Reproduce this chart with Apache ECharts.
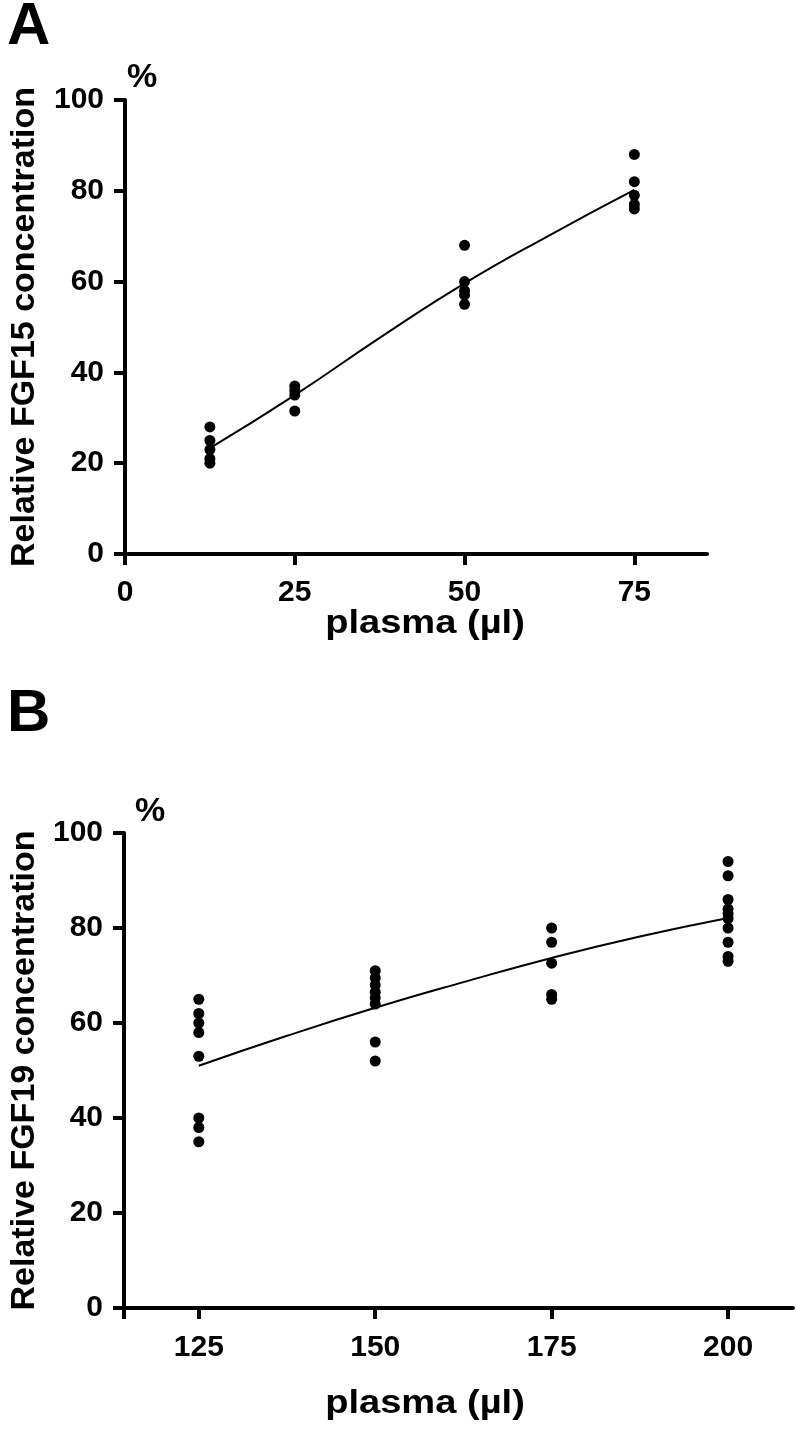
<!DOCTYPE html>
<html><head><meta charset="utf-8">
<script src="https://cdn.jsdelivr.net/npm/echarts@6/dist/echarts.min.js"></script>
<style>html,body{margin:0;padding:0;background:#fff}#c{width:797px;height:1430px}</style>
</head><body><div id="c"></div>
<script>
// Panel A data (FGF15)
const aDoses = [12.5, 25, 50, 75];
const aValues = [
  [28, 25, 23, 21, 20],
  [37, 36, 35, 31.5],
  [68, 60, 58, 57, 55],
  [88, 82, 79, 77, 76]
];
const aFitX = [12.5, 25, 37.5, 50, 62.5, 75];
const aFitY = [23.3, 35, 47.6, 59.6, 70.2, 80.2];
const aXTicks = [0, 25, 50, 75];

// Panel B data (FGF19)
const bDoses = [125, 150, 175, 200];
const bValues = [
  [65, 62, 60, 58, 53, 40, 38, 35],
  [71, 69.5, 68, 66.5, 65.3, 64, 56, 52],
  [80, 77, 72.6, 66, 65],
  [94, 91, 86, 84, 83, 82, 80, 77, 74, 73]
];
const bFitX = [125, 137.5, 150, 162.5, 175, 187.5, 200];
const bFitY = [51, 57.3, 63.2, 68.6, 73.7, 78.2, 82.1];
const bXTicks = [125, 150, 175, 200];
const yTicks = [0, 20, 40, 60, 80, 100];

function pts(doses, values) {
  const out = [];
  doses.forEach((d, i) => values[i].forEach(v => out.push([d, v])));
  return out;
}
function zip(xs, ys) { return xs.map((x, i) => [x, ys[i]]); }

const FONT = '"Liberation Sans", Arial, sans-serif';
const axisLine = { show: true, onZero: false, lineStyle: { color: '#000', width: 4 } };
const axisTick = (vals) => ({ show: true, inside: false, length: 11, lineStyle: { color: '#000', width: 4 }, customValues: vals });
const label = (vals, margin) => ({ color: '#000', fontFamily: FONT, fontWeight: 'bold', fontSize: 30, margin: margin, customValues: vals });
const yName = { color: '#000', fontFamily: FONT, fontWeight: 'bold', fontSize: 34 };

const chart = echarts.init(document.getElementById('c'), null, { renderer: 'canvas' });
chart.setOption({
  animation: false,
  backgroundColor: '#fff',
  grid: [
    { left: 119, top: 100, width: 588, height: 454 },
    { left: 118, top: 833, width: 675, height: 475 }
  ],
  xAxis: [
    { gridIndex: 0, type: 'value', min: 0, max: 85.7, axisLine, axisTick: axisTick(aXTicks),
      axisLabel: label(aXTicks, 24), splitLine: { show: false } },
    { gridIndex: 1, type: 'value', min: 114.4, max: 209.2, axisLine,
      axisTick: axisTick([114.4].concat(bXTicks)),
      axisLabel: label(bXTicks, 25), splitLine: { show: false } }
  ],
  yAxis: [
    { gridIndex: 0, type: 'value', min: 0, max: 100, axisLine, axisTick: axisTick(yTicks),
      axisLabel: label(yTicks, 21), splitLine: { show: false },
      name: 'Relative FGF15 concentration', nameLocation: 'middle', nameRotate: 90, nameGap: 83,
      nameTextStyle: yName },
    { gridIndex: 1, type: 'value', min: 0, max: 100, axisLine, axisTick: axisTick(yTicks),
      axisLabel: label(yTicks, 21), splitLine: { show: false },
      name: 'Relative FGF19 concentration', nameLocation: 'middle', nameRotate: 90, nameGap: 82,
      nameTextStyle: yName }
  ],
  graphic: [
    { type: 'text', left: 7, top: -3, style: { text: 'A', font: 'bold 60px ' + FONT, fill: '#000' } },
    { type: 'text', left: 127, top: 61, style: { text: '%', font: 'bold 34px ' + FONT, fill: '#000' } },
    { type: 'text', left: 7, top: 684, style: { text: 'B', font: 'bold 60px ' + FONT, fill: '#000' } },
    { type: 'text', left: 135, top: 795, style: { text: '%', font: 'bold 34px ' + FONT, fill: '#000' } },
    { type: 'text', x: 425, y: 624, scaleX: 1.12, style: { text: 'plasma (µl)', font: 'bold 34px ' + FONT, fill: '#000', align: 'center', verticalAlign: 'middle' } },
    { type: 'text', x: 425, y: 1404, scaleX: 1.12, style: { text: 'plasma (µl)', font: 'bold 34px ' + FONT, fill: '#000', align: 'center', verticalAlign: 'middle' } }
  ],
  series: [
    { type: 'line', xAxisIndex: 0, yAxisIndex: 0, data: zip(aFitX, aFitY), smooth: true, symbol: 'none',
      lineStyle: { color: '#000', width: 2 }, z: 2 },
    { type: 'scatter', xAxisIndex: 0, yAxisIndex: 0, data: pts(aDoses, aValues), symbol: 'circle', symbolSize: 11,
      itemStyle: { color: '#000', opacity: 1 }, z: 3 },
    { type: 'line', xAxisIndex: 1, yAxisIndex: 1, data: zip(bFitX, bFitY), smooth: true, symbol: 'none',
      lineStyle: { color: '#000', width: 2 }, z: 2 },
    { type: 'scatter', xAxisIndex: 1, yAxisIndex: 1, data: pts(bDoses, bValues), symbol: 'circle', symbolSize: 11,
      itemStyle: { color: '#000', opacity: 1 }, z: 3 }
  ]
});
</script></body></html>
